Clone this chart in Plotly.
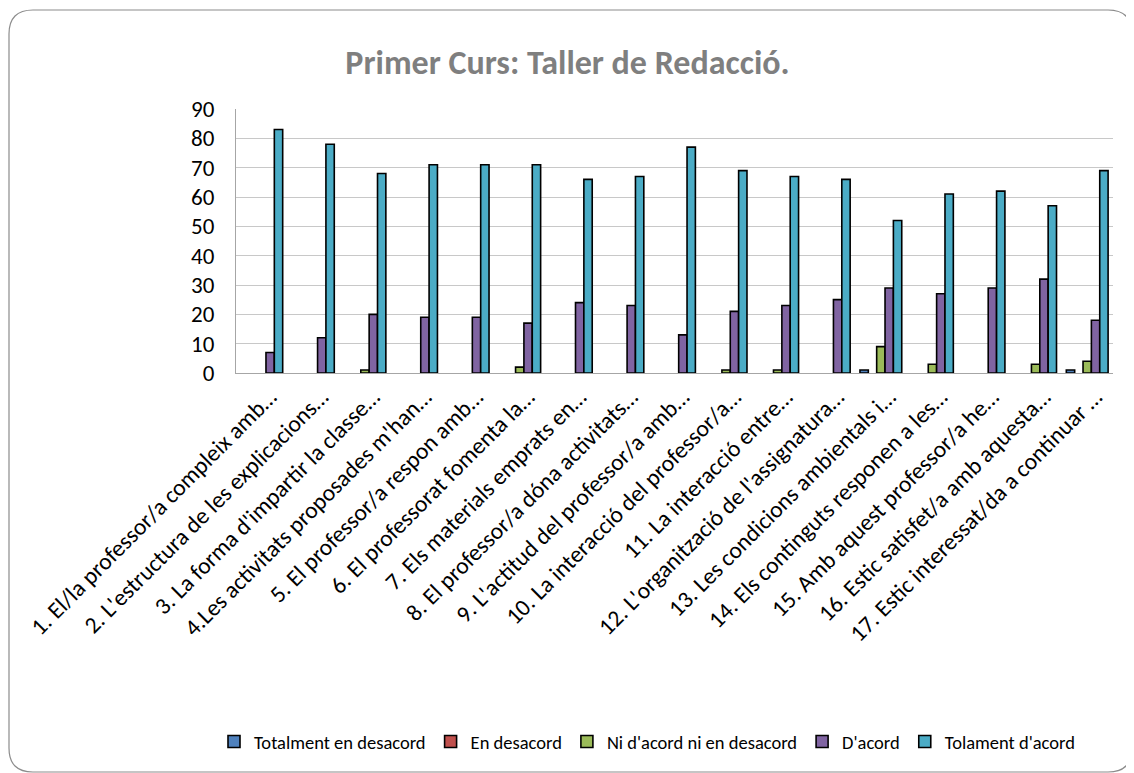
import plotly.graph_objects as go

categories = [
    "1. El/la professor/a compleix amb…",
    "2. L'estructura de les explicacions…",
    "3. La forma d'impartir la classe…",
    "4.Les activitats proposades m'han…",
    "5. El professor/a respon amb…",
    "6. El professorat fomenta la…",
    "7. Els materials emprats en…",
    "8. El professor/a dóna activitats…",
    "9. L'actitud del professor/a amb…",
    "10. La interacció del professor/a…",
    "11. La interacció entre…",
    "12. L'organització de l'assignatura…",
    "13. Les condicions ambientals i…",
    "14. Els continguts responen a les…",
    "15. Amb aquest professor/a he…",
    "16. Estic satisfet/a amb aquesta…",
    "17. Estic interessat/da a continuar …",
]

series_names = [
    "Totalment en desacord",
    "En desacord",
    "Ni d'acord ni en desacord",
    "D'acord",
    "Tolament d'acord",
]

totalment_desacord = [0, 0, 0, 0, 0, 0, 0, 0, 0, 0, 0, 0, 1, 0, 0, 0, 1]
en_desacord = [0, 0, 0, 0, 0, 0, 0, 0, 0, 0, 0, 0, 0, 0, 0, 0, 0]
ni_acord = [0, 0, 1, 0, 0, 2, 0, 0, 0, 1, 1, 0, 9, 3, 0, 3, 4]
d_acord = [7, 12, 20, 19, 19, 17, 24, 23, 13, 21, 23, 25, 29, 27, 29, 32, 18]
totalment_acord = [83, 78, 68, 71, 71, 71, 66, 67, 77, 69, 67, 66, 52, 61, 62, 57, 69]

y_ticks = [0, 10, 20, 30, 40, 50, 60, 70, 80, 90]

colors = ["#4f81bd", "#c0504d", "#9bbb59", "#8064a2", "#4bacc6"]
values = [totalment_desacord, en_desacord, ni_acord, d_acord, totalment_acord]

# page geometry (browser body adds an 8px offset)
PAGE_W, PAGE_H, OFF = 1134, 773, 8
W, H = PAGE_W - OFF, PAGE_H - OFF
L, R, T, B = 236, 1113, 109, 373   # plot area in page pixels

FONT = "Calibri, Carlito, Lato, sans-serif"

fig = go.Figure()
for name, vals, col in zip(series_names, values, colors):
    # zero-valued bars are not drawn (as in the original, no outline stub)
    fig.add_trace(go.Bar(
        x=categories, y=[v if v != 0 else None for v in vals], name=name,
        marker=dict(color=col, line=dict(color="#000000", width=1.6)),
    ))


def px(x):
    return (x - L) / (R - L)


def py(y):
    return (B - y) / (B - T)


x0, y0, x1, y1, r = 9, 10, 1132, 772, 24
path = (
    f"M {px(x0 + r)},{py(y0)} L {px(x1 - r)},{py(y0)} "
    f"Q {px(x1)},{py(y0)} {px(x1)},{py(y0 + r)} "
    f"L {px(x1)},{py(y1 - r)} Q {px(x1)},{py(y1)} {px(x1 - r)},{py(y1)} "
    f"L {px(x0 + r)},{py(y1)} Q {px(x0)},{py(y1)} {px(x0)},{py(y1 - r)} "
    f"L {px(x0)},{py(y0 + r)} Q {px(x0)},{py(y0)} {px(x0 + r)},{py(y0)} Z"
)

fig.update_layout(
    template="none",
    width=W, height=H,
    margin=dict(l=L - OFF, r=PAGE_W - R, t=T - OFF, b=PAGE_H - B, autoexpand=False),
    paper_bgcolor="#ffffff",
    plot_bgcolor="#ffffff",
    bargap=0.19,
    bargroupgap=0,
    barmode="group",
    font=dict(family=FONT, color="#000000"),
    title=dict(
        text="<b>Primer Curs: Taller de Redacció.</b>",
        x=(567.5 - OFF) / W, xref="container", xanchor="center",
        y=1 - (62 - OFF) / H, yref="container", yanchor="middle",
        font=dict(family=FONT, size=34, color="#7f7f7f"),
    ),
    legend=dict(
        orientation="h",
        x=px(647), xanchor="center",
        y=py(742), yanchor="middle",
        font=dict(family=FONT, size=18.5, color="#000000"),
        bgcolor="rgba(0,0,0,0)",
        itemclick=False,
    ),
    shapes=[dict(
        type="path", path=path, xref="paper", yref="paper",
        line=dict(color="#8c8c8c", width=1.2), fillcolor="rgba(0,0,0,0)",
        layer="below",
    )],
)

fig.update_xaxes(
    automargin=False,
    tickangle=-45,
    tickfont=dict(family=FONT, size=23.5, color="#000000"),
    showline=True, linecolor="#a6a6a6", linewidth=1.2,
    showgrid=False, ticks="", zeroline=False,
    ticklabelshift=8,
    ticklabelstandoff=0,
)
fig.update_yaxes(
    automargin=False,
    range=[0, 90],
    tickvals=y_ticks,
    tickfont=dict(family=FONT, size=23, color="#000000"),
    showline=True, linecolor="#a6a6a6", linewidth=1.2,
    showgrid=True, gridcolor="#c8c8c8", gridwidth=1.2,
    ticks="", zeroline=False,
    ticklabelstandoff=16,
)

fig.write_html("out.html")
